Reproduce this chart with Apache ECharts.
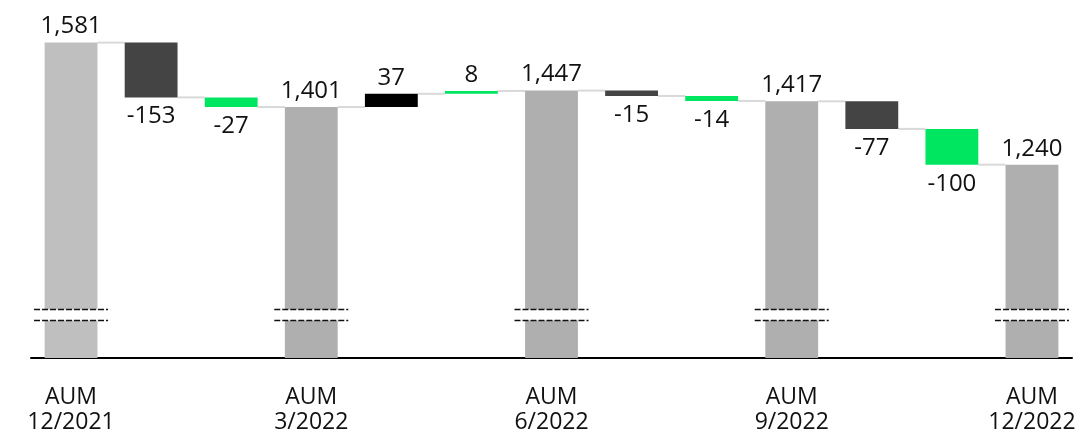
<!DOCTYPE html>
<html>
<head>
<meta charset="utf-8">
<script src="https://cdn.jsdelivr.net/npm/echarts@6/dist/echarts.min.js"></script>
<style>
  html, body { margin: 0; padding: 0; background: #ffffff; }
  #chart { width: 1084px; height: 435px; }
</style>
</head>
<body>
<div id="chart"></div>
<script>
// Assets under management: quarter-end totals and the movements between them
const categories = ['AUM 12/2021', 'Q1 a', 'Q1 b', 'AUM 3/2022', 'Q2 a', 'Q2 b',
  'AUM 6/2022', 'Q3 a', 'Q3 b', 'AUM 9/2022', 'Q4 a', 'Q4 b', 'AUM 12/2022'];
const tickLabels = ['AUM\n12/2021', '', '', 'AUM\n3/2022', '', '', 'AUM\n6/2022', '', '',
  'AUM\n9/2022', '', '', 'AUM\n12/2022'];
const values = [1581, -153, -27, 1401, 37, 8, 1447, -15, -14, 1417, -77, -100, 1240];
const stepKinds = ['start', 'dark', 'green', 'total', 'black', 'green', 'total',
  'dark', 'green', 'total', 'dark', 'green', 'total'];

const palette = {
  start: '#bfbfbf',
  total: '#afafaf',
  dark: '#444444',
  black: '#000000',
  green: '#00e660'
};

const AXIS_FLOOR = 700;
const AXIS_CEIL = 1700;
const BAR_RATIO = 0.66;
const FONT = '"Open Sans", "Noto Sans", sans-serif';

const isTotal = k => k === 'start' || k === 'total';

// Waterfall geometry: invisible base + visible segment, plus running levels for connectors
let level = 0;
const baseData = [];
const barData = [];
const connectorData = [];
values.forEach((v, i) => {
  const kind = stepKinds[i];
  if (isTotal(kind)) {
    baseData.push(0);
    level = v;
    barData.push({ value: v, itemStyle: { color: palette[kind] }, label: { position: 'top', distance: 4 } });
  } else {
    const next = level + v;
    baseData.push(Math.min(level, next));
    level = next;
    barData.push({
      value: Math.abs(v),
      itemStyle: { color: palette[kind] },
      label: { position: v < 0 ? 'bottom' : 'top', distance: v < 0 ? 7 : 4 }
    });
  }
  if (i < values.length - 1) connectorData.push([i, level]);
});
const breakData = values.map((v, i) => i).filter(i => isTotal(stepKinds[i])).map(i => [i, AXIS_FLOOR]);

const fmt = v => (v < 0 ? '-' : '') + Math.abs(v).toLocaleString('en-US');

const chart = echarts.init(document.getElementById('chart'), null, { renderer: 'canvas' });
chart.setOption({
  animation: false,
  backgroundColor: '#ffffff',
  grid: { left: 31, right: 12, top: 0, bottom: 77, containLabel: false, outerBoundsMode: 'none' },
  xAxis: {
    type: 'category',
    data: categories,
    axisLine: { show: true, lineStyle: { color: '#000000', width: 2 } },
    axisTick: { show: false },
    axisLabel: {
      interval: 0,
      margin: 27,
      fontFamily: FONT,
      fontSize: 23,
      lineHeight: 25,
      color: '#111111',
      formatter: (val, idx) => tickLabels[idx]
    },
    splitLine: { show: false }
  },
  yAxis: {
    type: 'value',
    min: AXIS_FLOOR,
    max: AXIS_CEIL,
    show: false,
    splitLine: { show: false }
  },
  series: [
    {
      name: 'base',
      type: 'bar',
      stack: 'wf',
      data: baseData,
      barWidth: (BAR_RATIO * 100) + '%',
      itemStyle: { color: 'transparent' },
      emphasis: { disabled: true },
      silent: true
    },
    {
      name: 'step',
      type: 'bar',
      stack: 'wf',
      data: barData,
      barWidth: (BAR_RATIO * 100) + '%',
      label: {
        show: true,
        fontFamily: FONT,
        fontSize: 24,
        color: '#111111',
        formatter: p => fmt(values[p.dataIndex])
      },
      emphasis: { disabled: true }
    },
    {
      name: 'connectors',
      type: 'custom',
      data: connectorData,
      silent: true,
      z: 1,
      renderItem: (params, api) => {
        const p = api.coord([api.value(0), api.value(1)]);
        const band = api.size([1, 0])[0];
        const half = band * BAR_RATIO / 2;
        return {
          type: 'line',
          shape: { x1: p[0] + half, y1: p[1], x2: p[0] + band - half, y2: p[1] },
          style: { stroke: '#d9d9d9', lineWidth: 2 }
        };
      }
    },
    {
      name: 'breaks',
      type: 'custom',
      data: breakData,
      silent: true,
      z: 10,
      renderItem: (params, api) => {
        const p = api.coord([api.value(0), api.value(1)]);
        const halfW = 37;
        const yTop = p[1] - 48.5;
        const yBot = p[1] - 37.5;
        const dash = { stroke: '#111111', lineWidth: 1.4, lineDash: [6, 2] };
        return {
          type: 'group',
          children: [
            { type: 'rect', shape: { x: p[0] - halfW, y: yTop, width: halfW * 2, height: yBot - yTop },
              style: { fill: '#ffffff' } },
            { type: 'line', shape: { x1: p[0] - halfW, y1: yTop, x2: p[0] + halfW, y2: yTop }, style: dash },
            { type: 'line', shape: { x1: p[0] - halfW, y1: yBot, x2: p[0] + halfW, y2: yBot }, style: dash }
          ]
        };
      }
    }
  ]
});
</script>
</body>
</html>
